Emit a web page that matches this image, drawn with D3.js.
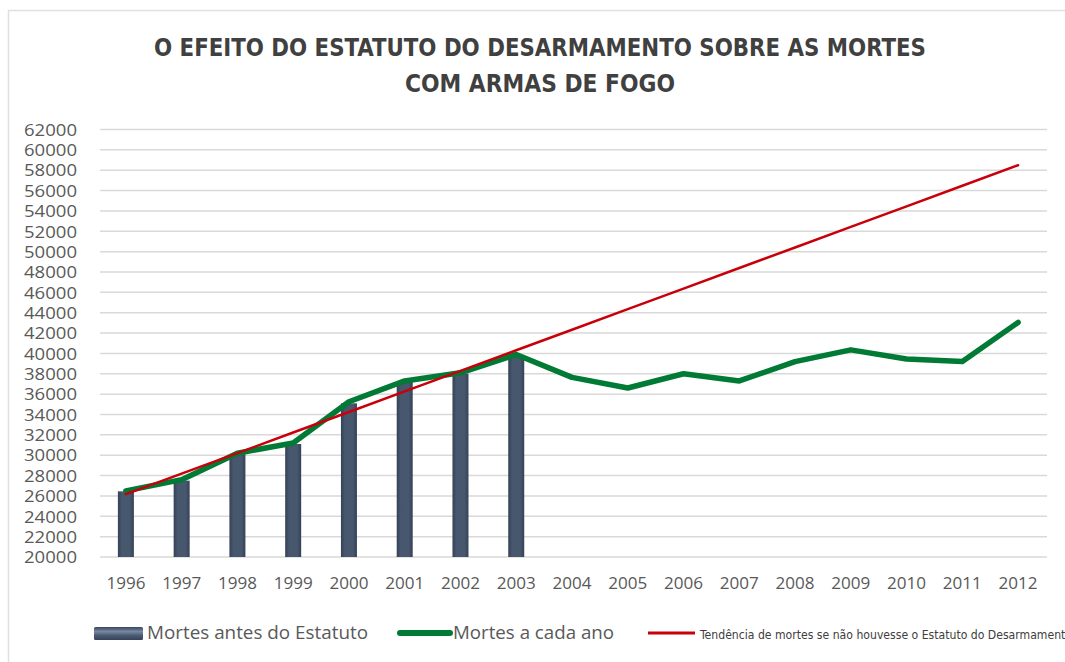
<!DOCTYPE html>
<html>
<head>
<meta charset="utf-8">
<script src="https://cdn.jsdelivr.net/npm/d3@7"></script>
<style>
  body { margin: 0; background: #fff; overflow: hidden; }
  text { font-family: "Open Sans", sans-serif; }
</style>
</head>
<body>
<div id="chart"></div>
<script>
let wSvg = 1065; let hSvg = 662;

const years = [1996, 1997, 1998, 1999, 2000, 2001, 2002, 2003, 2004, 2005, 2006, 2007, 2008, 2009, 2010, 2011, 2012];
const mortesAntes = [26450, 27500, 30100, 31100, 35100, 37200, 38000, 39700];
const mortesAno = [26500, 27600, 30200, 31200, 35250, 37300, 38100, 39900, 37650, 36600, 38000, 37300, 39200, 40350, 39450, 39200, 43050];
const tendencia = [26170, 28190, 30210, 32230, 34250, 36270, 38290, 40310, 42330, 44350, 46370, 48390, 50410, 52430, 54450, 56470, 58490];
const yTicks = [20000, 22000, 24000, 26000, 28000, 30000, 32000, 34000, 36000, 38000, 40000, 42000, 44000, 46000, 48000, 50000, 52000, 54000, 56000, 58000, 60000, 62000];
const titleLines = ["O EFEITO DO ESTATUTO DO DESARMAMENTO SOBRE AS MORTES", "COM ARMAS DE FOGO"];
const legendLabels = ["Mortes antes do Estatuto", "Mortes a cada ano", "Tendência de mortes se não houvesse o Estatuto do Desarmamento"];

let greenColor = "#007a35";
let redColor = "#c8000a";
let gridColor = "#d9d9d9";
let textColor = "#595959";

let svg = d3.select("#chart")
    .append("svg")
    .attr("width", wSvg)
    .attr("height", hSvg);

// gradient for the bars (bevelled look)
let defs = svg.append("defs");
let grad = defs.append("linearGradient").attr("id", "barGrad").attr("x1", 0).attr("x2", 1).attr("y1", 0).attr("y2", 0);
grad.append("stop").attr("offset", "0%").attr("stop-color", "#354155");
grad.append("stop").attr("offset", "25%").attr("stop-color", "#47576e");
grad.append("stop").attr("offset", "75%").attr("stop-color", "#47576e");
grad.append("stop").attr("offset", "100%").attr("stop-color", "#354155");
let gradL = defs.append("linearGradient").attr("id", "legGrad").attr("x1", 0).attr("x2", 0).attr("y1", 0).attr("y2", 1);
gradL.append("stop").attr("offset", "0%").attr("stop-color", "#3a4659");
gradL.append("stop").attr("offset", "35%").attr("stop-color", "#7688a3");
gradL.append("stop").attr("offset", "65%").attr("stop-color", "#4b5b73");
gradL.append("stop").attr("offset", "100%").attr("stop-color", "#36425a");

// outer frame
svg.append("rect")
    .attr("x", 8.5).attr("y", 10.5)
    .attr("width", 1080).attr("height", 700)
    .attr("fill", "none")
    .attr("stroke", "#e0e0e0")
    .attr("stroke-width", 1.5);

svg.selectAll("text.title")
    .data(titleLines)
    .enter()
    .append("text")
    .attr("class", "title")
    .attr("x", 540)
    .attr("y", (d, i) => 56 + i * 36)
    .attr("text-anchor", "middle")
    .attr("fill", "#404040")
    .style("font-family", "'DejaVu Sans Condensed', 'DejaVu Sans', sans-serif")
    .style("font-weight", "bold")
    .style("font-size", "24px")
    .attr("textLength", (d, i) => i === 0 ? 772 : 270)
    .attr("lengthAdjust", "spacingAndGlyphs")
    .text(d => d);

const xScale = d3.scaleBand()
    .domain(years)
    .range([98, 1046]);

const yScale = d3.scaleLinear()
    .domain([20000, 62000])
    .range([557, 129.5]);

const xMid = d => xScale(d) + xScale.bandwidth() / 2;

// gridlines
svg.append("g")
    .selectAll("line")
    .data(yTicks)
    .enter()
    .append("line")
    .attr("x1", 100).attr("x2", 1047)
    .attr("y1", d => yScale(d)).attr("y2", d => yScale(d))
    .attr("stroke", gridColor)
    .attr("stroke-width", 1.5);

const axisLeft = d3.axisLeft(yScale).tickValues(yTicks).tickSize(0).tickPadding(0).tickFormat(d => d);
svg.append("g")
    .attr("transform", "translate(77, 0)")
    .call(axisLeft)
    .call(g => g.select(".domain").remove())
    .selectAll("text")
    .attr("fill", textColor)
    .attr("dy", "0.34em")
    .style("font-family", "'Open Sans', sans-serif")
    .style("font-size", "17px")
    .attr("textLength", 53)
    .attr("lengthAdjust", "spacingAndGlyphs");

const axisBottom = d3.axisBottom(xScale).tickSize(0).tickPadding(0);
svg.append("g")
    .attr("transform", "translate(0, 577)")
    .call(axisBottom)
    .call(g => g.select(".domain").remove())
    .selectAll("text")
    .attr("fill", textColor)
    .style("font-family", "'Open Sans', sans-serif")
    .style("font-size", "17px")
    .attr("textLength", 39)
    .attr("lengthAdjust", "spacingAndGlyphs");

// bars
let barW = 16;
svg.append("g")
    .selectAll("rect")
    .data(mortesAntes)
    .enter()
    .append("rect")
    .attr("x", (d, i) => xMid(years[i]) - barW / 2)
    .attr("y", d => yScale(d))
    .attr("width", barW)
    .attr("height", d => yScale(20000) - yScale(d))
    .attr("fill", "url(#barGrad)");

const lineGen = d3.line()
    .x((d, i) => xMid(years[i]))
    .y(d => yScale(d));

svg.append("path")
    .datum(mortesAno)
    .attr("fill", "none")
    .attr("stroke", greenColor)
    .attr("stroke-width", 5.5)
    .attr("stroke-linejoin", "round")
    .attr("stroke-linecap", "round")
    .attr("d", lineGen);

svg.append("path")
    .datum(tendencia)
    .attr("fill", "none")
    .attr("stroke", redColor)
    .attr("stroke-width", 2.5)
    .attr("stroke-linecap", "round")
    .attr("d", lineGen);

// legend
let leg = svg.append("g");
leg.append("rect")
    .attr("x", 94).attr("y", 627).attr("width", 49).attr("height", 13)
    .attr("rx", 1.5)
    .attr("fill", "url(#legGrad)");
leg.append("text")
    .attr("x", 147).attr("y", 639)
    .attr("fill", textColor)
    .style("font-size", "18px")
    .attr("textLength", 221)
    .attr("lengthAdjust", "spacingAndGlyphs")
    .text(legendLabels[0]);

leg.append("line")
    .attr("x1", 400).attr("x2", 450).attr("y1", 633).attr("y2", 633)
    .attr("stroke", greenColor).attr("stroke-width", 6).attr("stroke-linecap", "round");
leg.append("text")
    .attr("x", 453).attr("y", 639)
    .attr("fill", textColor)
    .style("font-size", "18px")
    .attr("textLength", 161)
    .attr("lengthAdjust", "spacingAndGlyphs")
    .text(legendLabels[1]);

leg.append("line")
    .attr("x1", 648).attr("x2", 695).attr("y1", 633).attr("y2", 633)
    .attr("stroke", redColor).attr("stroke-width", 3);
leg.append("text")
    .attr("x", 700).attr("y", 639)
    .attr("fill", "#404040")
    .style("font-family", "'DejaVu Sans Condensed', 'DejaVu Sans', sans-serif")
    .style("font-size", "12.5px")
    .attr("textLength", 372)
    .attr("lengthAdjust", "spacingAndGlyphs")
    .text(legendLabels[2]);
</script>
</body>
</html>
